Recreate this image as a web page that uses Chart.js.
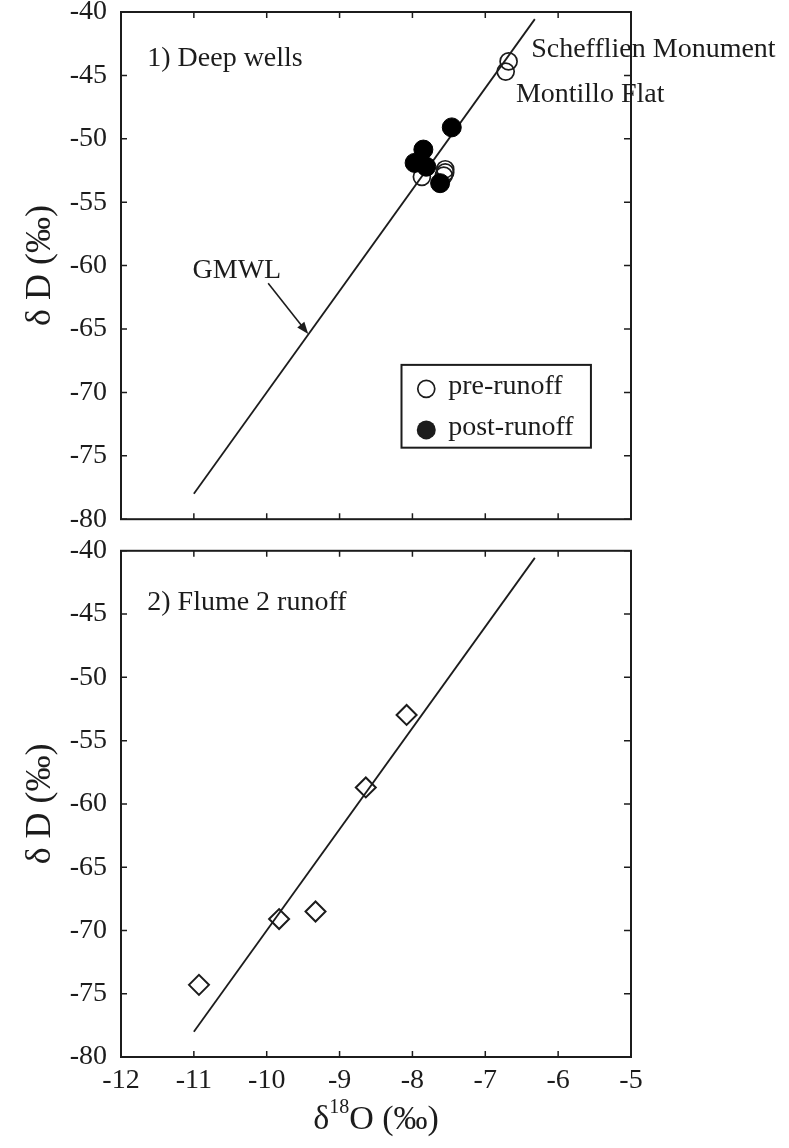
<!DOCTYPE html>
<html>
<head>
<meta charset="utf-8">
<script src="https://cdn.jsdelivr.net/npm/chart.js@4.4.1/dist/chart.umd.min.js"></script>
<style>
  body { margin: 0; background: #fff; }
  #contenedor { position: relative; width: 789px; height: 1148px; overflow: hidden; }
  canvas { position: absolute; left: 0; }
</style>
</head>
<body>
<div id="contenedor">
  <canvas id="graficoPozos" width="789" height="580" style="top:-30px"></canvas>
  <canvas id="graficoFlume" width="789" height="628" style="top:520px"></canvas>
</div>
<script>
const ticks_x = [-12, -11, -10, -9, -8, -7, -6, -5];
const ticks_y = [-80, -75, -70, -65, -60, -55, -50, -45, -40];

// GMWL, extremos
const gmwl_x = [-11, -6.32];
const gmwl_y = [-78, -40.56];

// 1) Deep wells
const pre_x = [-6.68, -6.72, -7.55, -7.55, -7.57, -7.87];
const pre_y = [-43.9, -44.7, -52.4, -52.65, -52.9, -53.0];
const post_x = [-7.46, -7.85, -7.97, -7.81, -7.62];
const post_y = [-49.1, -50.85, -51.9, -52.2, -53.5];

// 2) Flume 2 runoff
const flume_x = [-8.08, -8.64, -9.33, -9.83, -10.93];
const flume_y = [-52.97, -58.7, -68.5, -69.1, -74.3];

const sitios = ['Schefflien Monument', 'Montillo Flat'];
const sitios_x = [-6.37, -6.58];
const sitios_y = [-43.0, -46.5];

const fuente = "'Liberation Serif', 'Times New Roman', serif";
const tinta = '#1c1c1c';

function puntos(xs, ys) {
    return xs.map((v, i) => ({ x: v, y: ys[i] }));
}

function escribir(ctx, txt, px, py, size, align) {
    ctx.font = size + 'px ' + fuente;
    ctx.fillStyle = tinta;
    ctx.textAlign = align || 'left';
    ctx.textBaseline = 'middle';
    ctx.fillText(txt, px, py);
}

// marco y ticks hacia adentro en los cuatro lados
const marco = {
    id: 'marco',
    afterDatasetsDraw(chart) {
        const { ctx, chartArea: a, scales: { x, y } } = chart;
        ctx.save();
        ctx.strokeStyle = tinta;
        ctx.lineWidth = 2;
        ctx.strokeRect(a.left, a.top, a.right - a.left, a.bottom - a.top);
        ctx.lineWidth = 1.5;
        ctx.beginPath();
        ticks_x.forEach(v => {
            const px = x.getPixelForValue(v);
            ctx.moveTo(px, a.bottom); ctx.lineTo(px, a.bottom - 6);
            ctx.moveTo(px, a.top); ctx.lineTo(px, a.top + 6);
        });
        ticks_y.forEach(v => {
            const py = y.getPixelForValue(v);
            ctx.moveTo(a.left, py); ctx.lineTo(a.left + 6, py);
            ctx.moveTo(a.right, py); ctx.lineTo(a.right - 7, py);
        });
        ctx.stroke();
        ctx.restore();
    }
};

const notas_pozos = {
    id: 'notas_pozos',
    afterDatasetsDraw(chart) {
        const { ctx, scales: { x, y } } = chart;
        ctx.save();
        escribir(ctx, '1) Deep wells', x.getPixelForValue(-11.64), y.getPixelForValue(-43.7), 28);
        sitios.forEach((s, i) => {
            escribir(ctx, s, x.getPixelForValue(sitios_x[i]), y.getPixelForValue(sitios_y[i]), 28);
        });
        escribir(ctx, 'GMWL', x.getPixelForValue(-10.41), y.getPixelForValue(-60.4), 28, 'center');

        // flecha hacia la linea
        const x0 = x.getPixelForValue(-9.98), y0 = y.getPixelForValue(-61.4);
        const x1 = x.getPixelForValue(-9.43), y1 = y.getPixelForValue(-65.4);
        const ang = Math.atan2(y1 - y0, x1 - x0);
        ctx.strokeStyle = tinta;
        ctx.fillStyle = tinta;
        ctx.lineWidth = 1.6;
        ctx.beginPath();
        ctx.moveTo(x0, y0);
        ctx.lineTo(x1 - 8 * Math.cos(ang), y1 - 8 * Math.sin(ang));
        ctx.stroke();
        ctx.beginPath();
        ctx.moveTo(x1, y1);
        ctx.lineTo(x1 - 12 * Math.cos(ang) + 4.5 * Math.sin(ang), y1 - 12 * Math.sin(ang) - 4.5 * Math.cos(ang));
        ctx.lineTo(x1 - 12 * Math.cos(ang) - 4.5 * Math.sin(ang), y1 - 12 * Math.sin(ang) + 4.5 * Math.cos(ang));
        ctx.closePath();
        ctx.fill();

        // leyenda
        const l = x.getPixelForValue(-8.15), r = x.getPixelForValue(-5.55);
        const t = y.getPixelForValue(-67.83), b = y.getPixelForValue(-74.36);
        ctx.lineWidth = 2;
        ctx.strokeRect(l, t, r - l, b - t);
        const mx = x.getPixelForValue(-7.81), tx = x.getPixelForValue(-7.51);
        const fila1 = y.getPixelForValue(-69.56), fila2 = y.getPixelForValue(-72.8);
        ctx.lineWidth = 1.7;
        ctx.beginPath();
        ctx.arc(mx, fila1 + 2, 8.5, 0, Math.PI * 2);
        ctx.stroke();
        ctx.beginPath();
        ctx.arc(mx, fila2 + 2, 9.5, 0, Math.PI * 2);
        ctx.fill();
        escribir(ctx, chart.data.datasets[0].label, tx, fila1, 28);
        escribir(ctx, chart.data.datasets[1].label, tx, fila2, 28);
        ctx.restore();
    }
};

const notas_flume = {
    id: 'notas_flume',
    afterDatasetsDraw(chart) {
        const { ctx, chartArea: a, scales: { x, y } } = chart;
        ctx.save();
        escribir(ctx, '2) Flume 2 runoff', x.getPixelForValue(-11.64), y.getPixelForValue(-44.1), 28);

        // titulo del eje x con superindice
        const cy = 600;
        ctx.font = '34px ' + fuente;
        const w1 = ctx.measureText('\u03B4').width;
        const w3 = ctx.measureText('O (\u2030)').width;
        ctx.font = '20px ' + fuente;
        const w2 = ctx.measureText('18').width;
        let px = (a.left + a.right) / 2 - (w1 + w2 + w3) / 2;
        escribir(ctx, '\u03B4', px, cy, 34);
        escribir(ctx, '18', px + w1, cy - 12, 20);
        escribir(ctx, 'O (\u2030)', px + w1 + w2, cy, 34);
        ctx.restore();
    }
};

function ejes(mostrar_x, alto_x) {
    return {
        x: {
            type: 'linear',
            min: -12, max: -5,
            display: mostrar_x,
            afterBuildTicks: s => { s.ticks = ticks_x.map(v => ({ value: v })); },
            afterFit: s => { if (mostrar_x) s.height = alto_x; },
            grid: { display: false, drawTicks: false },
            border: { display: false },
            ticks: { color: tinta, padding: 7, font: { family: fuente, size: 28 } }
        },
        y: {
            type: 'linear',
            min: -80, max: -40,
            afterBuildTicks: s => { s.ticks = ticks_y.map(v => ({ value: v })); },
            afterFit: s => { s.width = 121; },
            grid: { display: false, drawTicks: false },
            border: { display: false },
            ticks: { color: tinta, padding: 14, font: { family: fuente, size: 28 } },
            title: {
                display: true,
                text: '\u03B4 D (\u2030)',
                color: tinta,
                padding: { top: 19, bottom: 0 },
                font: { family: fuente, size: 36 }
            }
        }
    };
}

const linea_gmwl = {
    label: 'GMWL',
    data: puntos(gmwl_x, gmwl_y),
    showLine: true,
    borderColor: tinta,
    borderWidth: 1.8,
    pointRadius: 0,
    order: 2
};

const ctx_pozos = document.getElementById('graficoPozos').getContext('2d');
const grafico_pozos = new Chart(ctx_pozos, {
    type: 'scatter',
    data: {
    datasets: [{
        label: 'pre-runoff',
        data: puntos(pre_x, pre_y),
        pointStyle: 'circle',
        pointRadius: 8.5,
        borderWidth: 1.7,
        borderColor: tinta,
        backgroundColor: 'rgba(0,0,0,0)',
        order: 1
    }, {
        label: 'post-runoff',
        data: puntos(post_x, post_y),
        pointStyle: 'circle',
        pointRadius: 9.5,
        borderWidth: 1,
        borderColor: '#000',
        backgroundColor: '#000',
        order: 0
    }, linea_gmwl]
    },
    options: {
    responsive: false,
    animation: false,
    devicePixelRatio: 1,
    events: [],
    layout: { padding: { top: 42, right: 158, bottom: 29, left: 0 } },
    scales: ejes(false, 0),
    plugins: {
        legend: { display: false },
        tooltip: { enabled: false }
    }
    },
    plugins: [marco, notas_pozos]
});

const ctx_flume = document.getElementById('graficoFlume').getContext('2d');
const grafico_flume = new Chart(ctx_flume, {
    type: 'scatter',
    data: {
    datasets: [{
        label: 'Flume 2 runoff',
        data: puntos(flume_x, flume_y),
        pointStyle: 'rectRot',
        pointRadius: 10,
        borderWidth: 2,
        borderColor: tinta,
        backgroundColor: 'rgba(255,255,255,0)',
        order: 0
    }, Object.assign({}, linea_gmwl, { data: puntos(gmwl_x, gmwl_y) })]
    },
    options: {
    responsive: false,
    animation: false,
    devicePixelRatio: 1,
    events: [],
    layout: { padding: { top: 28, right: 158, bottom: 0, left: 0 } },
    scales: ejes(true, 91),
    plugins: {
        legend: { display: false },
        tooltip: { enabled: false }
    }
    },
    plugins: [marco, notas_flume]
});
</script>
</body>
</html>
